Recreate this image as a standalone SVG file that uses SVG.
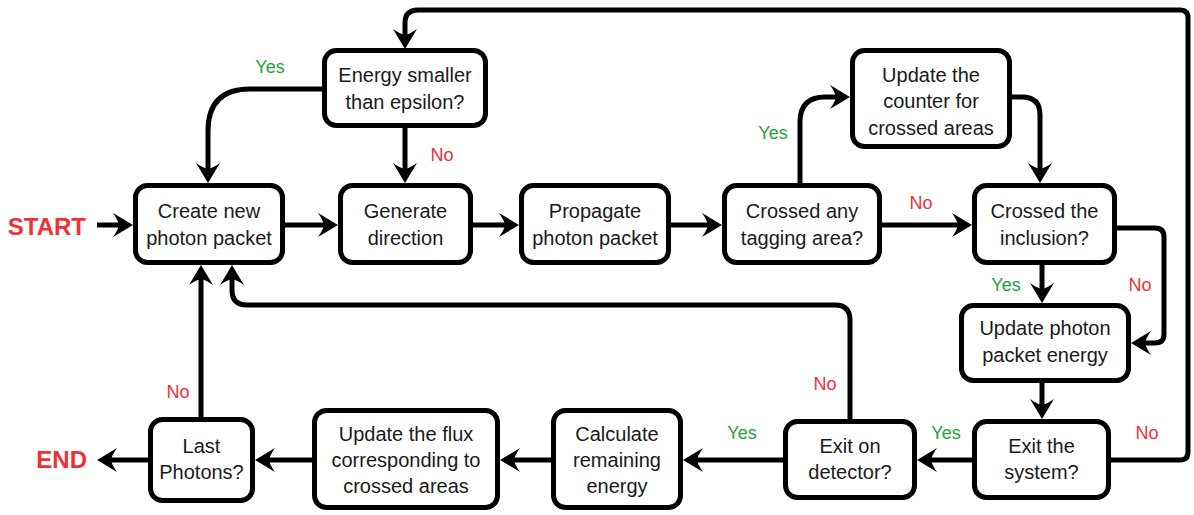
<svg xmlns="http://www.w3.org/2000/svg" width="1194" height="515" viewBox="0 0 1194 515">
<defs>
<style>
.box{fill:#fff;stroke:#000;stroke-width:5}
.t{font-family:"Liberation Sans",Arial,sans-serif;font-size:20px;fill:#1a1a1a;text-anchor:middle}
.c{fill:none;stroke:#000;stroke-width:5}
.yes{font-family:"Liberation Sans",Arial,sans-serif;font-size:18px;fill:#1fa33a;text-anchor:middle}
.no{font-family:"Liberation Sans",Arial,sans-serif;font-size:18px;fill:#ee3137;text-anchor:middle}
.big{font-family:"Liberation Sans",Arial,sans-serif;font-size:24px;font-weight:bold;fill:#ee3137;text-anchor:end}
</style>
<marker id="ah" viewBox="0 0 30 26" refX="20" refY="13" markerWidth="30" markerHeight="26" markerUnits="userSpaceOnUse" orient="auto" overflow="visible">
<path d="M28,13 L8,1 Q13,8 14,13 Q13,18 8,25 Z" fill="#000"/>
</marker>
</defs>
<rect width="1194" height="515" fill="#fff"/>
<g id="connectors">
<path class="c" d="M97 225 H125" marker-end="url(#ah)"/>
<path class="c" d="M285 225 H330" marker-end="url(#ah)"/>
<path class="c" d="M473 225 H511" marker-end="url(#ah)"/>
<path class="c" d="M671 225 H714" marker-end="url(#ah)"/>
<path class="c" d="M882 225 H964" marker-end="url(#ah)"/>
<path class="c" d="M405 128 V175" marker-end="url(#ah)"/>
<path class="c" d="M323 89 H250 Q208 89 208 131 V175" marker-end="url(#ah)"/>
<path class="c" d="M1111 460 H1180 Q1188 460 1188 452 V18 Q1188 10 1180 10 H418 Q405 10 405 23 V41" marker-end="url(#ah)"/>
<path class="c" d="M800 183 V122 Q800 97 825 97 H842" marker-end="url(#ah)"/>
<path class="c" d="M1012 97 H1022 Q1040 97 1040 115 V175" marker-end="url(#ah)"/>
<path class="c" d="M1042 265 V295" marker-end="url(#ah)"/>
<path class="c" d="M1117 228 H1155 Q1164 228 1164 237 V334 Q1164 343 1155 343 H1139" marker-end="url(#ah)"/>
<path class="c" d="M1042 383 V411" marker-end="url(#ah)"/>
<path class="c" d="M972 460 H925" marker-end="url(#ah)"/>
<path class="c" d="M783 460 H691" marker-end="url(#ah)"/>
<path class="c" d="M551 460 H508" marker-end="url(#ah)"/>
<path class="c" d="M312 460 H263" marker-end="url(#ah)"/>
<path class="c" d="M148 460 H105" marker-end="url(#ah)"/>
<path class="c" d="M201 417 V273" marker-end="url(#ah)"/>
<path class="c" d="M850 420 V320 Q850 305 835 305 H247 Q232 305 232 290 V273" marker-end="url(#ah)"/>
</g>
<g id="labels">
<text class="yes" x="270" y="73">Yes</text>
<text class="no" x="442" y="161">No</text>
<text class="yes" x="773" y="139">Yes</text>
<text class="no" x="921" y="209">No</text>
<text class="yes" x="1006" y="291">Yes</text>
<text class="no" x="1140" y="291">No</text>
<text class="no" x="825" y="390">No</text>
<text class="yes" x="946" y="439">Yes</text>
<text class="no" x="1147" y="439">No</text>
<text class="yes" x="742" y="439">Yes</text>
<text class="no" x="178" y="398">No</text>
<text class="big" x="86" y="235">START</text>
<text class="big" x="87" y="468">END</text>
</g>
<g id="n-energy">
<rect class="box" x="324.5" y="50.5" width="161" height="75" rx="12"/>
<text class="t" x="405" y="82">Energy smaller</text>
<text class="t" x="405" y="109">than epsilon?</text>
</g>
<g id="n-create">
<rect class="box" x="135.5" y="185.5" width="147" height="77" rx="12"/>
<text class="t" x="209" y="218">Create new</text>
<text class="t" x="209" y="245">photon packet</text>
</g>
<g id="n-generate">
<rect class="box" x="340.5" y="185.5" width="130" height="77" rx="12"/>
<text class="t" x="405.5" y="218">Generate</text>
<text class="t" x="405.5" y="245">direction</text>
</g>
<g id="n-propagate">
<rect class="box" x="521.5" y="185.5" width="147" height="77" rx="12"/>
<text class="t" x="595" y="218">Propagate</text>
<text class="t" x="595" y="245">photon packet</text>
</g>
<g id="n-tagging">
<rect class="box" x="724.5" y="185.5" width="155" height="77" rx="12"/>
<text class="t" x="802" y="218">Crossed any</text>
<text class="t" x="802" y="245">tagging area?</text>
</g>
<g id="n-counter">
<rect class="box" x="852.5" y="50.5" width="157" height="96" rx="12"/>
<text class="t" x="931" y="82">Update the</text>
<text class="t" x="931" y="108">counter for</text>
<text class="t" x="931" y="135">crossed areas</text>
</g>
<g id="n-inclusion">
<rect class="box" x="974.5" y="185.5" width="140" height="77" rx="12"/>
<text class="t" x="1044.5" y="218">Crossed the</text>
<text class="t" x="1044.5" y="245">inclusion?</text>
</g>
<g id="n-update-energy">
<rect class="box" x="961.5" y="305.5" width="167" height="75" rx="12"/>
<text class="t" x="1045" y="335">Update photon</text>
<text class="t" x="1045" y="362">packet energy</text>
</g>
<g id="n-exit-system">
<rect class="box" x="974.5" y="421.5" width="134" height="76" rx="12"/>
<text class="t" x="1041.5" y="453">Exit the</text>
<text class="t" x="1041.5" y="479">system?</text>
</g>
<g id="n-exit-detector">
<rect class="box" x="785.5" y="421.5" width="129" height="76" rx="12"/>
<text class="t" x="850" y="453">Exit on</text>
<text class="t" x="850" y="479">detector?</text>
</g>
<g id="n-calculate">
<rect class="box" x="553.5" y="410.5" width="127" height="97" rx="12"/>
<text class="t" x="617" y="441">Calculate</text>
<text class="t" x="617" y="467">remaining</text>
<text class="t" x="617" y="493">energy</text>
</g>
<g id="n-flux">
<rect class="box" x="314.5" y="410.5" width="183" height="97" rx="12"/>
<text class="t" x="406" y="441">Update the flux</text>
<text class="t" x="406" y="467">corresponding to</text>
<text class="t" x="406" y="493">crossed areas</text>
</g>
<g id="n-last">
<rect class="box" x="150.5" y="419.5" width="102" height="81" rx="12"/>
<text class="t" x="201.5" y="453">Last</text>
<text class="t" x="201.5" y="479">Photons?</text>
</g>
</svg>
